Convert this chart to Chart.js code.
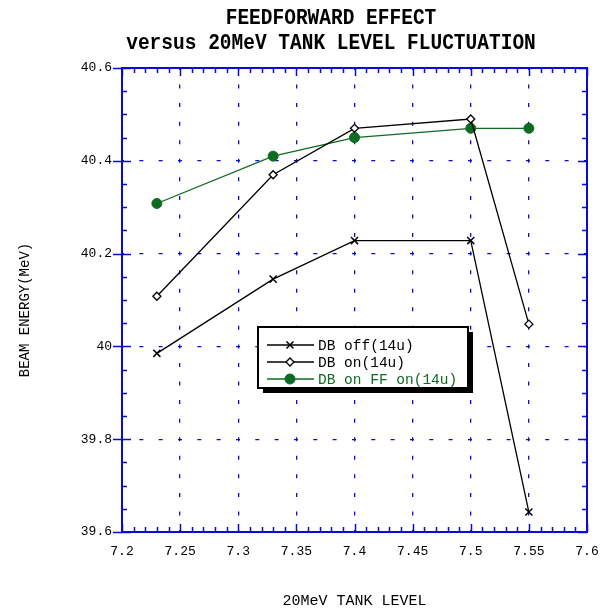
<!DOCTYPE html>
<html>
<head>
<meta charset="utf-8">
<script src="https://cdn.jsdelivr.net/npm/chart.js@4.4.1/dist/chart.umd.min.js"></script>
<style>
  html, body { margin: 0; padding: 0; background: #fff; }
  #wrap { width: 606px; height: 611px; }
</style>
</head>
<body>
<div id="wrap"><canvas id="feedforward"></canvas></div>
<script>
// tank level values (x)
var tankLevels = [7.23, 7.33, 7.4, 7.5, 7.55];
// beam energy (MeV) for each series
var dbOff = [39.985, 40.145, 40.228, 40.228, 39.643];
var dbOn = [40.108, 40.37, 40.47, 40.49, 40.048];
var dbOnFfOn = [40.308, 40.41, 40.45, 40.47, 40.47];
var seriesNames = ['DB off(14u)', 'DB on(14u)', 'DB on FF on(14u)'];
var titleLines = ['FEEDFORWARD EFFECT', 'versus 20MeV TANK LEVEL FLUCTUATION'];
var yTitle = 'BEAM ENERGY(MeV)';

var blue = '#0a0ad8';
var green = '#0e6b22';
var mono = "'Liberation Mono', 'DejaVu Sans Mono', monospace";

function toPoints(ys) {
    return tankLevels.map(function (x, i) { return { x: x, y: ys[i] }; });
}

// title, y title, frame, inward ticks and legend box
var framePlugin = {
    id: 'frame',
    afterDatasetsDraw: function (chart) {
        var ctx = chart.ctx;
        var a = chart.chartArea;
        var xs = chart.scales.x, ys = chart.scales.y;
        ctx.save();

        // title
        ctx.fillStyle = '#000';
        ctx.textAlign = 'center';
        ctx.textBaseline = 'middle';
        ctx.font = 'bold 19.5px ' + mono;
        titleLines.forEach(function (t, k) {
            ctx.save();
            ctx.translate(331, 19 + k * 25);
            ctx.scale(1, 1.1);
            ctx.fillText(t, 0, 0);
            ctx.restore();
        });

        // y axis title
        ctx.save();
        ctx.translate(25, 310);
        ctx.rotate(-Math.PI / 2);
        ctx.font = '14px ' + mono;
        ctx.fillText(yTitle, 0, 0);
        ctx.restore();

        ctx.strokeStyle = blue;
        ctx.lineWidth = 2;
        ctx.strokeRect(a.left, a.top, a.right - a.left, a.bottom - a.top);
        ctx.lineWidth = 1.5;
        ctx.beginPath();
        var i, v, p, len;
        for (i = 0; i <= 40; i++) {
            v = 7.2 + i * 0.01;
            p = Math.round(xs.getPixelForValue(v)) + 0.5;
            len = (i % 5 === 0) ? 8 : 5;
            ctx.moveTo(p, a.bottom); ctx.lineTo(p, a.bottom - len);
            ctx.moveTo(p, a.top); ctx.lineTo(p, a.top + len);
        }
        for (i = 0; i <= 20; i++) {
            v = 39.6 + i * 0.05;
            p = Math.round(ys.getPixelForValue(v)) + 0.5;
            var major = i % 4 === 0;
            len = major ? 9 : 5;
            ctx.moveTo(a.left - (major ? 9 : 0), p); ctx.lineTo(a.left + len, p);
            ctx.moveTo(a.right, p); ctx.lineTo(a.right - len, p);
        }
        ctx.stroke();

        // legend
        var bx = 258, by = 327, bw = 210, bh = 61;
        ctx.fillStyle = '#000';
        ctx.fillRect(bx + 5, by + 5, bw, bh);
        ctx.fillStyle = '#fff';
        ctx.fillRect(bx, by, bw, bh);
        ctx.strokeStyle = '#000';
        ctx.lineWidth = 2;
        ctx.strokeRect(bx, by, bw, bh);
        ctx.font = '14.5px ' + mono;
        ctx.textAlign = 'left';
        ctx.textBaseline = 'middle';
        var rowsY = [345, 362, 379];
        chart.data.datasets.forEach(function (ds, k) {
            var y = rowsY[k];
            ctx.strokeStyle = ds.borderColor;
            ctx.lineWidth = 1.5;
            ctx.beginPath();
            ctx.moveTo(267, y); ctx.lineTo(314, y);
            ctx.stroke();
            ctx.fillStyle = ds.pointBackgroundColor;
            ctx.strokeStyle = ds.pointBorderColor;
            ctx.lineWidth = ds.pointBorderWidth;
            Chart.helpers.drawPoint(ctx, {
                pointStyle: ds.pointStyle,
                radius: ds.pointRadius,
                borderWidth: ds.pointBorderWidth,
                rotation: 0
            }, 290, y);
            ctx.fillStyle = k === 2 ? green : '#000';
            ctx.fillText(ds.label, 318, y + 1);
        });
        ctx.restore();
    }
};

var data = {
    datasets: [{
        label: seriesNames[0],
        data: toPoints(dbOff),
        borderColor: '#000',
        borderWidth: 1.3,
        pointStyle: 'crossRot',
        pointRadius: 5,
        pointBorderWidth: 1.5,
        pointBorderColor: '#000',
        pointBackgroundColor: '#000'
    }, {
        label: seriesNames[1],
        data: toPoints(dbOn),
        borderColor: '#000',
        borderWidth: 1.3,
        pointStyle: 'rectRot',
        pointRadius: 4,
        pointBorderWidth: 1.3,
        pointBorderColor: '#000',
        pointBackgroundColor: '#fff'
    }, {
        label: seriesNames[2],
        data: toPoints(dbOnFfOn),
        borderColor: green,
        borderWidth: 1.3,
        pointStyle: 'circle',
        pointRadius: 5,
        pointBorderWidth: 1,
        pointBorderColor: green,
        pointBackgroundColor: green
    }]
};

var config = {
    type: 'line',
    data: data,
    options: {
        responsive: true,
        maintainAspectRatio: false,
        animation: false,
        layout: { padding: { left: 0, right: 19, top: 68, bottom: 0 } },
        plugins: {
            legend: { display: false },
            tooltip: { enabled: false },
            title: { display: false }
        },
        scales: {
            x: {
                type: 'linear',
                min: 7.2,
                max: 7.6,
                afterFit: function (scale) {
                    scale.height = 79;
                    scale.paddingRight = 0;
                    scale.paddingLeft = 0;
                },
                ticks: {
                    stepSize: 0.05,
                    color: '#000',
                    padding: 12,
                    maxRotation: 0,
                    autoSkip: false,
                    font: { family: mono, size: 13 },
                    callback: function (value) { return String(Math.round(value * 100) / 100); }
                },
                grid: { color: blue, lineWidth: 1.3, drawTicks: false },
                border: { display: false, dash: [4, 14.56], dashOffset: 2 },
                title: {
                    display: true,
                    text: '20MeV TANK LEVEL',
                    color: '#000',
                    font: { family: mono, size: 15 },
                    padding: { top: 0, bottom: 1 }
                }
            },
            y: {
                min: 39.6,
                max: 40.6,
                afterFit: function (scale) {
                    scale.width = 122;
                    scale.paddingTop = 0;
                    scale.paddingBottom = 0;
                },
                ticks: {
                    stepSize: 0.2,
                    color: '#000',
                    padding: 10,
                    font: { family: mono, size: 13 },
                    callback: function (value) { return String(Math.round(value * 10) / 10); }
                },
                grid: { color: blue, lineWidth: 1.3, drawTicks: false },
                border: { display: false, dash: [4, 15.33], dashOffset: 2 },
                title: { display: false }
            }
        }
    },
    plugins: [framePlugin]
};

new Chart(document.getElementById('feedforward'), config);
</script>
</body>
</html>
